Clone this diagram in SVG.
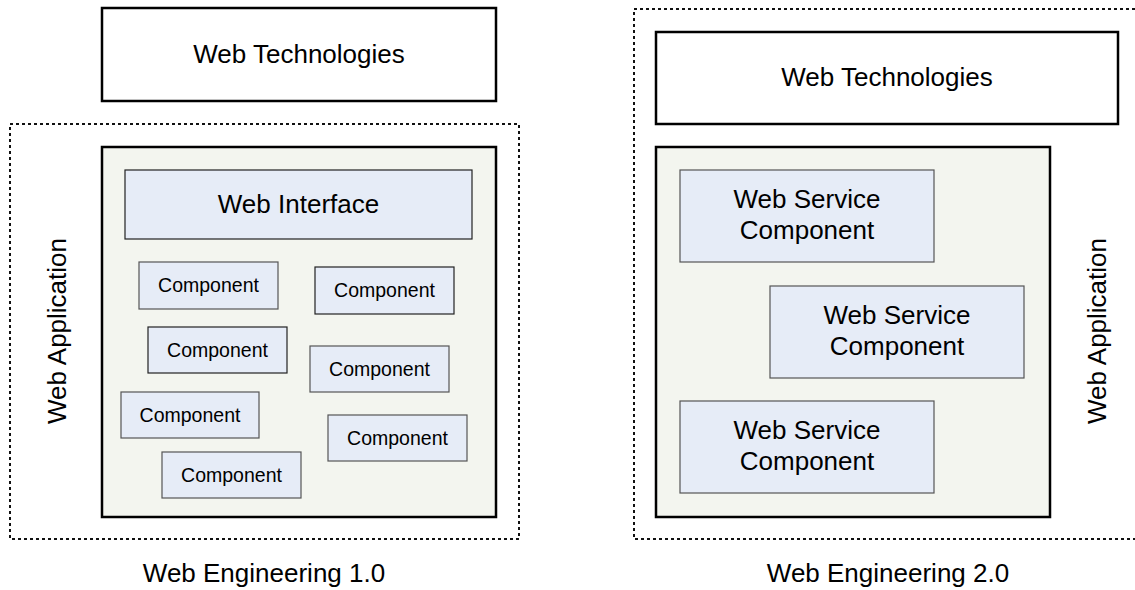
<svg xmlns="http://www.w3.org/2000/svg" width="1135" height="590" viewBox="0 0 1135 590">
<style>
text{font-family:"Liberation Sans",Arial,sans-serif;fill:#000}
.big{font-size:26px}
.sm{font-size:19.5px}
.dot{fill:none;stroke:#111;stroke-width:2;stroke-dasharray:3 3}
.tech{fill:#fff;stroke:#000;stroke-width:2.5}
.app{fill:#f3f5ef;stroke:#000;stroke-width:2.5}
.comp{fill:#e6ecf7;stroke:#555;stroke-width:1.2}
.compd{fill:#e6ecf7;stroke:#222;stroke-width:1.2}
</style>
<g id="connectors"></g>
<g id="web-eng-1">
  <rect class="dot" x="10" y="124" width="509" height="415"/>
  <text class="big" text-anchor="middle" transform="translate(66,331) rotate(-90)">Web Application</text>
  <text class="big" x="264" y="582" text-anchor="middle">Web Engineering 1.0</text>
</g>
<g id="web-tech-1">
  <rect class="tech" x="102" y="8" width="394" height="93"/>
  <text class="big" x="299" y="63" text-anchor="middle">Web Technologies</text>
</g>
<g id="app-1">
  <rect class="app" x="102" y="147" width="394" height="370"/>
</g>
<g id="web-interface">
  <rect class="compd" x="125" y="170" width="347" height="69"/>
  <text class="big" x="298.5" y="213" text-anchor="middle">Web Interface</text>
</g>
<g id="comp-1"><rect class="comp" x="139" y="262" width="139" height="47"/><text class="sm" x="208.5" y="292" text-anchor="middle">Component</text></g>
<g id="comp-2"><rect class="compd" x="315" y="267" width="139" height="47"/><text class="sm" x="384.5" y="297" text-anchor="middle">Component</text></g>
<g id="comp-3"><rect class="compd" x="148" y="327" width="139" height="46"/><text class="sm" x="217.5" y="357" text-anchor="middle">Component</text></g>
<g id="comp-4"><rect class="comp" x="310" y="346" width="139" height="46"/><text class="sm" x="379.5" y="376" text-anchor="middle">Component</text></g>
<g id="comp-5"><rect class="comp" x="121" y="392" width="138" height="46"/><text class="sm" x="190" y="422" text-anchor="middle">Component</text></g>
<g id="comp-6"><rect class="comp" x="328" y="415" width="139" height="46"/><text class="sm" x="397.5" y="445" text-anchor="middle">Component</text></g>
<g id="comp-7"><rect class="comp" x="162" y="452" width="139" height="46"/><text class="sm" x="231.5" y="482" text-anchor="middle">Component</text></g>

<g id="web-eng-2">
  <rect class="dot" x="634" y="9" width="508" height="530"/>
  <text class="big" text-anchor="middle" transform="translate(1106,331) rotate(-90)">Web Application</text>
  <text class="big" x="888" y="582" text-anchor="middle">Web Engineering 2.0</text>
</g>
<g id="web-tech-2">
  <rect class="tech" x="656" y="32" width="462" height="92"/>
  <text class="big" x="887" y="86" text-anchor="middle">Web Technologies</text>
</g>
<g id="app-2">
  <rect class="app" x="656" y="147" width="394" height="370"/>
</g>
<g id="wsc-1"><rect class="comp" x="680" y="170" width="254" height="92"/><text class="big" x="807" y="208" text-anchor="middle">Web Service</text><text class="big" x="807" y="239" text-anchor="middle">Component</text></g>
<g id="wsc-2"><rect class="comp" x="770" y="286" width="254" height="92"/><text class="big" x="897" y="324" text-anchor="middle">Web Service</text><text class="big" x="897" y="355" text-anchor="middle">Component</text></g>
<g id="wsc-3"><rect class="comp" x="680" y="401" width="254" height="92"/><text class="big" x="807" y="439" text-anchor="middle">Web Service</text><text class="big" x="807" y="470" text-anchor="middle">Component</text></g>
</svg>
